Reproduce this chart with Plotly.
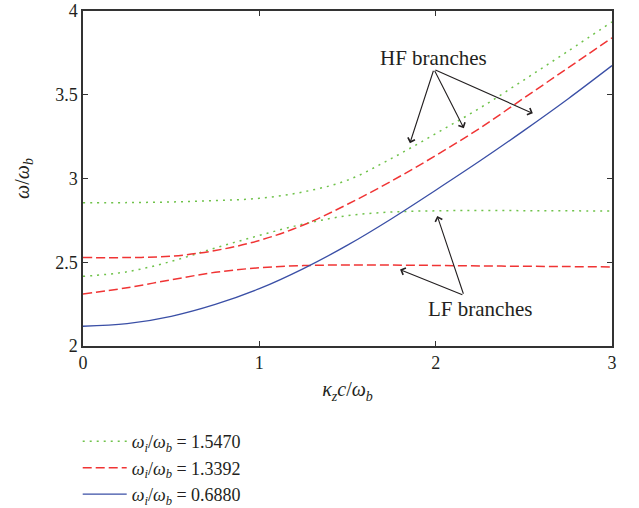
import plotly.graph_objects as go

# wavenumber samples  (kappa_z c / omega_b)
k = [0, 0.25, 0.5, 0.75, 1.0, 1.25, 1.5, 1.75, 2.0, 2.25, 2.5, 2.75, 3.0]

# omega_i/omega_b = 1.5470 (green, dotted)
green_hf = [2.855, 2.856, 2.860, 2.868, 2.882, 2.920, 2.990, 3.120, 3.268, 3.420, 3.588, 3.760, 3.935]
green_lf = [2.416, 2.443, 2.505, 2.585, 2.660, 2.728, 2.778, 2.800, 2.807, 2.809, 2.808, 2.807, 2.806]

# omega_i/omega_b = 1.3392 (red, dashed)
red_hf = [2.528, 2.528, 2.536, 2.570, 2.630, 2.722, 2.846, 2.985, 3.137, 3.300, 3.480, 3.660, 3.840]
red_lf = [2.310, 2.348, 2.395, 2.440, 2.467, 2.480, 2.484, 2.483, 2.481, 2.478, 2.476, 2.474, 2.472]

# omega_i/omega_b = 0.6880 (blue, solid)
blue = [2.118, 2.133, 2.177, 2.248, 2.342, 2.462, 2.602, 2.760, 2.930, 3.104, 3.286, 3.475, 3.674]

labels = ["1.5470", "1.3392", "0.6880"]
GREEN = "#6fc24a"
RED = "#f03434"
BLUE = "#3a4fa6"
FONT = "Liberation Serif"
TXT = "#231f20"

def lab(v):
    return "<i>ω</i><sub><i>i</i></sub>/<i>ω</i><sub><i>b</i></sub> = " + v

fig = go.Figure()
fig.add_trace(go.Scatter(x=k, y=green_hf, mode="lines", name=lab(labels[0]),
                         line=dict(color=GREEN, width=1.5, dash="2px,5px", shape="spline"),
                         legendgroup="g"))
fig.add_trace(go.Scatter(x=k, y=green_lf, mode="lines", showlegend=False,
                         line=dict(color=GREEN, width=1.5, dash="2px,5px", shape="spline"),
                         legendgroup="g"))
fig.add_trace(go.Scatter(x=k, y=red_hf, mode="lines", name=lab(labels[1]),
                         line=dict(color=RED, width=1.5, dash="9px,4px", shape="spline"),
                         legendgroup="r"))
fig.add_trace(go.Scatter(x=k, y=red_lf, mode="lines", showlegend=False,
                         line=dict(color=RED, width=1.5, dash="9px,4px", shape="spline"),
                         legendgroup="r"))
fig.add_trace(go.Scatter(x=k, y=blue, mode="lines", name=lab(labels[2]),
                         line=dict(color=BLUE, width=1.3, shape="spline"),
                         legendgroup="b"))

# annotation texts and arrows
hf_text = (1.99, 3.72)
hf_tail = (1.99, 3.652)
hf_tips = [(1.854, 3.211), (2.160, 3.300), (2.551, 3.389)]
lf_text = (2.25, 2.218)
lf_tail = (2.160, 2.303)
lf_tips = [(2.009, 2.776), (1.798, 2.456)]

anns = [
    dict(x=hf_text[0], y=hf_text[1], text="HF branches", showarrow=False,
         font=dict(family=FONT, size=21, color=TXT), xref="x", yref="y"),
    dict(x=lf_text[0], y=lf_text[1], text="LF branches", showarrow=False,
         font=dict(family=FONT, size=21, color=TXT), xref="x", yref="y"),
]
for tail, tips in ((hf_tail, hf_tips), (lf_tail, lf_tips)):
    for tx, ty in tips:
        anns.append(dict(x=tx, y=ty, ax=tail[0], ay=tail[1], xref="x", yref="y",
                         axref="x", ayref="y", text="", showarrow=True,
                         arrowhead=4, arrowsize=1.3, arrowwidth=1.1, arrowcolor=TXT,
                         standoff=0, startstandoff=0))

axis_common = dict(showline=True, linecolor="#333333", linewidth=1.5, mirror="ticks",
                   ticks="inside", ticklen=5, tickwidth=1, tickcolor="#333333",
                   showgrid=False, zeroline=False, automargin=False,
                   tickfont=dict(family=FONT, size=18, color=TXT))

fig.update_layout(
    width=639, height=508,
    margin=dict(l=83, r=27, t=11, b=162, autoexpand=False),
    plot_bgcolor="white", paper_bgcolor="white",
    font=dict(family=FONT, color=TXT),
    xaxis=dict(range=[0, 3], dtick=1, tick0=0,
               title=dict(text="<i>κ</i><sub><i>z</i></sub><i>c</i>/<i>ω</i><sub><i>b</i></sub>",
                          font=dict(family=FONT, size=20, color=TXT), standoff=10),
               **axis_common),
    yaxis=dict(range=[2, 4], dtick=0.5, tick0=2,
               title=dict(text="<i>ω</i>/<i>ω</i><sub><i>b</i></sub>",
                          font=dict(family=FONT, size=20, color=TXT), standoff=20),
               **axis_common),
    legend=dict(x=-0.01, y=-0.23, xanchor="left", yanchor="top",
                font=dict(family=FONT, size=18, color=TXT),
                bgcolor="rgba(0,0,0,0)", tracegroupgap=0, itemwidth=44),
    annotations=anns,
)

fig.write_html("out.html")
